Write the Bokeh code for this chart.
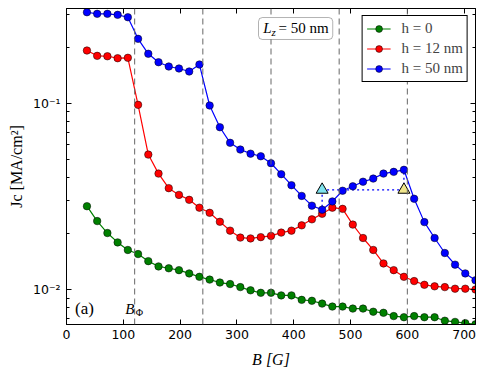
from bokeh.plotting import figure
from bokeh.models import (Range1d, FixedTicker, CustomJSTickFormatter, LinearAxis, LogAxis,
                          Span, Label, BoxAnnotation, Legend)
from bokeh.embed import file_html
from bokeh.resources import INLINE

# ---------------- data ----------------
B = [36, 54, 72, 90, 108, 126, 144, 162, 180, 198, 216, 234, 252, 270, 288, 306, 324, 342, 360,
     378, 396, 414, 432, 450, 468, 486, 504, 522, 540, 558, 576, 594, 612, 630, 648, 666, 684,
     702, 720]

jc_h0 = [0.0280, 0.0233, 0.0201, 0.0179, 0.0163, 0.0155, 0.0142, 0.0133, 0.0130, 0.0127,
         0.0122, 0.0117, 0.0113, 0.0109, 0.0107, 0.0103, 0.0099, 0.0096, 0.0096, 0.0093,
         0.0093, 0.0088, 0.0087, 0.0084, 0.0081, 0.0081, 0.0079, 0.0079, 0.0076, 0.0075,
         0.0072, 0.0071, 0.0072, 0.0071, 0.0071, 0.0068, 0.0067, 0.0066, 0.0065]

jc_h12 = [0.1918, 0.1796, 0.1787, 0.1744, 0.1753, 0.0980, 0.0530, 0.0419, 0.0350, 0.0322,
          0.0303, 0.0275, 0.0258, 0.0231, 0.0207, 0.0190, 0.0188, 0.0191, 0.0194, 0.0202,
          0.0207, 0.0221, 0.0238, 0.0255, 0.0275, 0.0271, 0.0223, 0.0189, 0.0163, 0.0138,
          0.0127, 0.0117, 0.0111, 0.0106, 0.0104, 0.0103, 0.0101, 0.0101, 0.0100]

jc_h50 = [0.3079, 0.3019, 0.3019, 0.2982, 0.2894, 0.2216, 0.1842, 0.1660, 0.1574, 0.1536,
          0.1480, 0.1613, 0.0972, 0.0743, 0.0613, 0.0564, 0.0536, 0.0519, 0.0476, 0.0416,
          0.0363, 0.0318, 0.0282, 0.0268, 0.0297, 0.0339, 0.0358, 0.0379, 0.0394, 0.0419,
          0.0428, 0.0439, 0.0307, 0.0230, 0.0189, 0.0157, 0.0136, 0.0122, 0.0112]

series_labels = ["h = 0", "h = 12 nm", "h = 50 nm"]
series_colors = ["#008000", "#ff0000", "#0000ff"]

# hysteresis markers
tri_B = [450, 594]
tri_J = [0.0343, 0.0343]
tri_colors = ["#7fe3ee", "#f0e68c"]

# matching-field lines (multiples of B_phi)
vlines = [120, 240, 360, 480, 600]

x_ticks = [0, 100, 200, 300, 400, 500, 600, 700]
y_ticks = [0.01, 0.1]
y_tick_labels = ["10⁻²", "10⁻¹"]
y_minor = [0.007, 0.008, 0.009, 0.02, 0.03, 0.04, 0.05, 0.06, 0.07, 0.08, 0.09, 0.2, 0.3]

# ---------------- figure ----------------
SERIF = "Liberation Serif"
SANS = "DejaVu Sans"

p = figure(width=485, height=374, x_range=Range1d(0, 720), y_range=Range1d(0.006489, 0.3224),
           y_axis_type="log", output_backend="svg", toolbar_location=None,
           min_border_left=66, min_border_right=10, min_border_top=8, min_border_bottom=50)
p.xgrid.visible = False
p.ygrid.visible = False
p.outline_line_color = "black"
p.outline_line_width = 1
p.outline_line_alpha = 1
p.background_fill_color = "white"
p.border_fill_color = "white"

fmt = CustomJSTickFormatter(code="""
const labs = {"0.01": "%s", "0.1": "%s"};
const k = String(Math.round(tick*1000)/1000);
return (k in labs) ? labs[k] : "";
""" % (y_tick_labels[0], y_tick_labels[1]))

xt = FixedTicker(ticks=x_ticks)
yt = FixedTicker(ticks=y_ticks, minor_ticks=y_minor)

def style_axis(ax, labels=True):
    ax.axis_line_color = "black"
    ax.major_tick_line_color = "black"
    ax.minor_tick_line_color = "black"
    ax.major_tick_in = 5
    ax.major_tick_out = 0
    ax.minor_tick_in = 3
    ax.minor_tick_out = 0
    if labels:
        ax.major_label_text_font = SANS
        ax.major_label_text_font_size = "12.5px"
        ax.major_label_text_color = "black"
    else:
        ax.major_label_text_font_size = "0px"
        ax.major_label_standoff = 0
        ax.major_label_text_alpha = 0

p.xaxis.ticker = xt
p.yaxis.ticker = yt
p.yaxis.formatter = fmt
style_axis(p.xaxis[0])
style_axis(p.yaxis[0])
p.xaxis.major_label_standoff = 5
p.yaxis.major_label_standoff = 6

p.xaxis.axis_label = "B [G]"
p.xaxis.axis_label_text_font = SERIF
p.xaxis.axis_label_text_font_style = "italic"
p.xaxis.axis_label_text_font_size = "16px"
p.xaxis.axis_label_text_color = "black"
p.xaxis.axis_label_standoff = 9

p.yaxis.axis_label = "Jc [MA/cm²]"
p.yaxis.axis_label_text_font = SERIF
p.yaxis.axis_label_text_font_style = "normal"
p.yaxis.axis_label_text_font_size = "16px"
p.yaxis.axis_label_text_color = "black"
p.yaxis.axis_label_standoff = 5

top_ax = LinearAxis(ticker=FixedTicker(ticks=x_ticks))
style_axis(top_ax, labels=False)
p.add_layout(top_ax, "above")
right_ax = LogAxis(ticker=FixedTicker(ticks=y_ticks, minor_ticks=y_minor))
style_axis(right_ax, labels=False)
p.add_layout(right_ax, "right")

for v in vlines:
    p.add_layout(Span(location=v, dimension="height", line_color="#666666",
                      line_width=1, line_dash="6 4"))

# dotted hysteresis guides (blue)
i0 = B.index(tri_B[0])
i1 = B.index(tri_B[1])
p.line(tri_B, tri_J, line_color="#0000ff", line_width=1.3, line_dash="2 3")
p.line([tri_B[0], tri_B[0]], [tri_J[0], jc_h50[i0]], line_color="#0000ff",
       line_width=1.3, line_dash="2 3")
p.line([tri_B[1], tri_B[1]], [tri_J[1], jc_h50[i1]], line_color="#0000ff",
       line_width=1.3, line_dash="2 3")

items = []
for ys, lab_, col in zip([jc_h0, jc_h12, jc_h50], series_labels, series_colors):
    r1 = p.line(B, ys, line_color=col, line_width=1.2)
    r2 = p.scatter(B, ys, marker="circle", size=7.5, fill_color=col,
                   line_color="black", line_width=0.5)
    items.append((lab_, [r1, r2]))

p.scatter(tri_B, tri_J, marker="triangle", size=12, fill_color=tri_colors,
          line_color="black", line_width=1)

legend = Legend(items=items, location="top_right")
legend.margin = 7
legend.padding = 4
legend.spacing = 3
legend.glyph_height = 17
legend.label_height = 17
legend.glyph_width = 24
legend.label_standoff = 11
legend.label_text_font = SERIF
legend.label_text_font_size = "15px"
legend.border_line_color = "black"
legend.border_line_width = 1
legend.border_line_alpha = 1
legend.background_fill_color = "white"
legend.background_fill_alpha = 1
p.add_layout(legend, "center")

# L_z box
p.add_layout(BoxAnnotation(left=338, right=468.7, bottom=0.2198, top=0.2884,
                           fill_color="white", fill_alpha=1, line_color="black",
                           line_width=1, border_radius=4))

def lab(x, y, text, size, style="normal", font=SERIF):
    p.add_layout(Label(x=x, y=y, text=text, text_font=font, text_font_size=size,
                       text_font_style=style, text_align="left", text_baseline="middle",
                       text_color="black"))

lab(346.4, 0.2518, "L", "15px", "italic")
lab(361.0, 0.2426, "z", "11px", "italic")
lab(373.4, 0.2518, "= 50 nm", "15px")

# panel tag and B_phi
lab(15, 0.0079, "(a)", "17px")
lab(103.3, 0.0079, "B", "15px", "italic")
lab(121.8, 0.00752, "Φ", "10px")

open("out.html", "w").write(file_html(p, INLINE))
